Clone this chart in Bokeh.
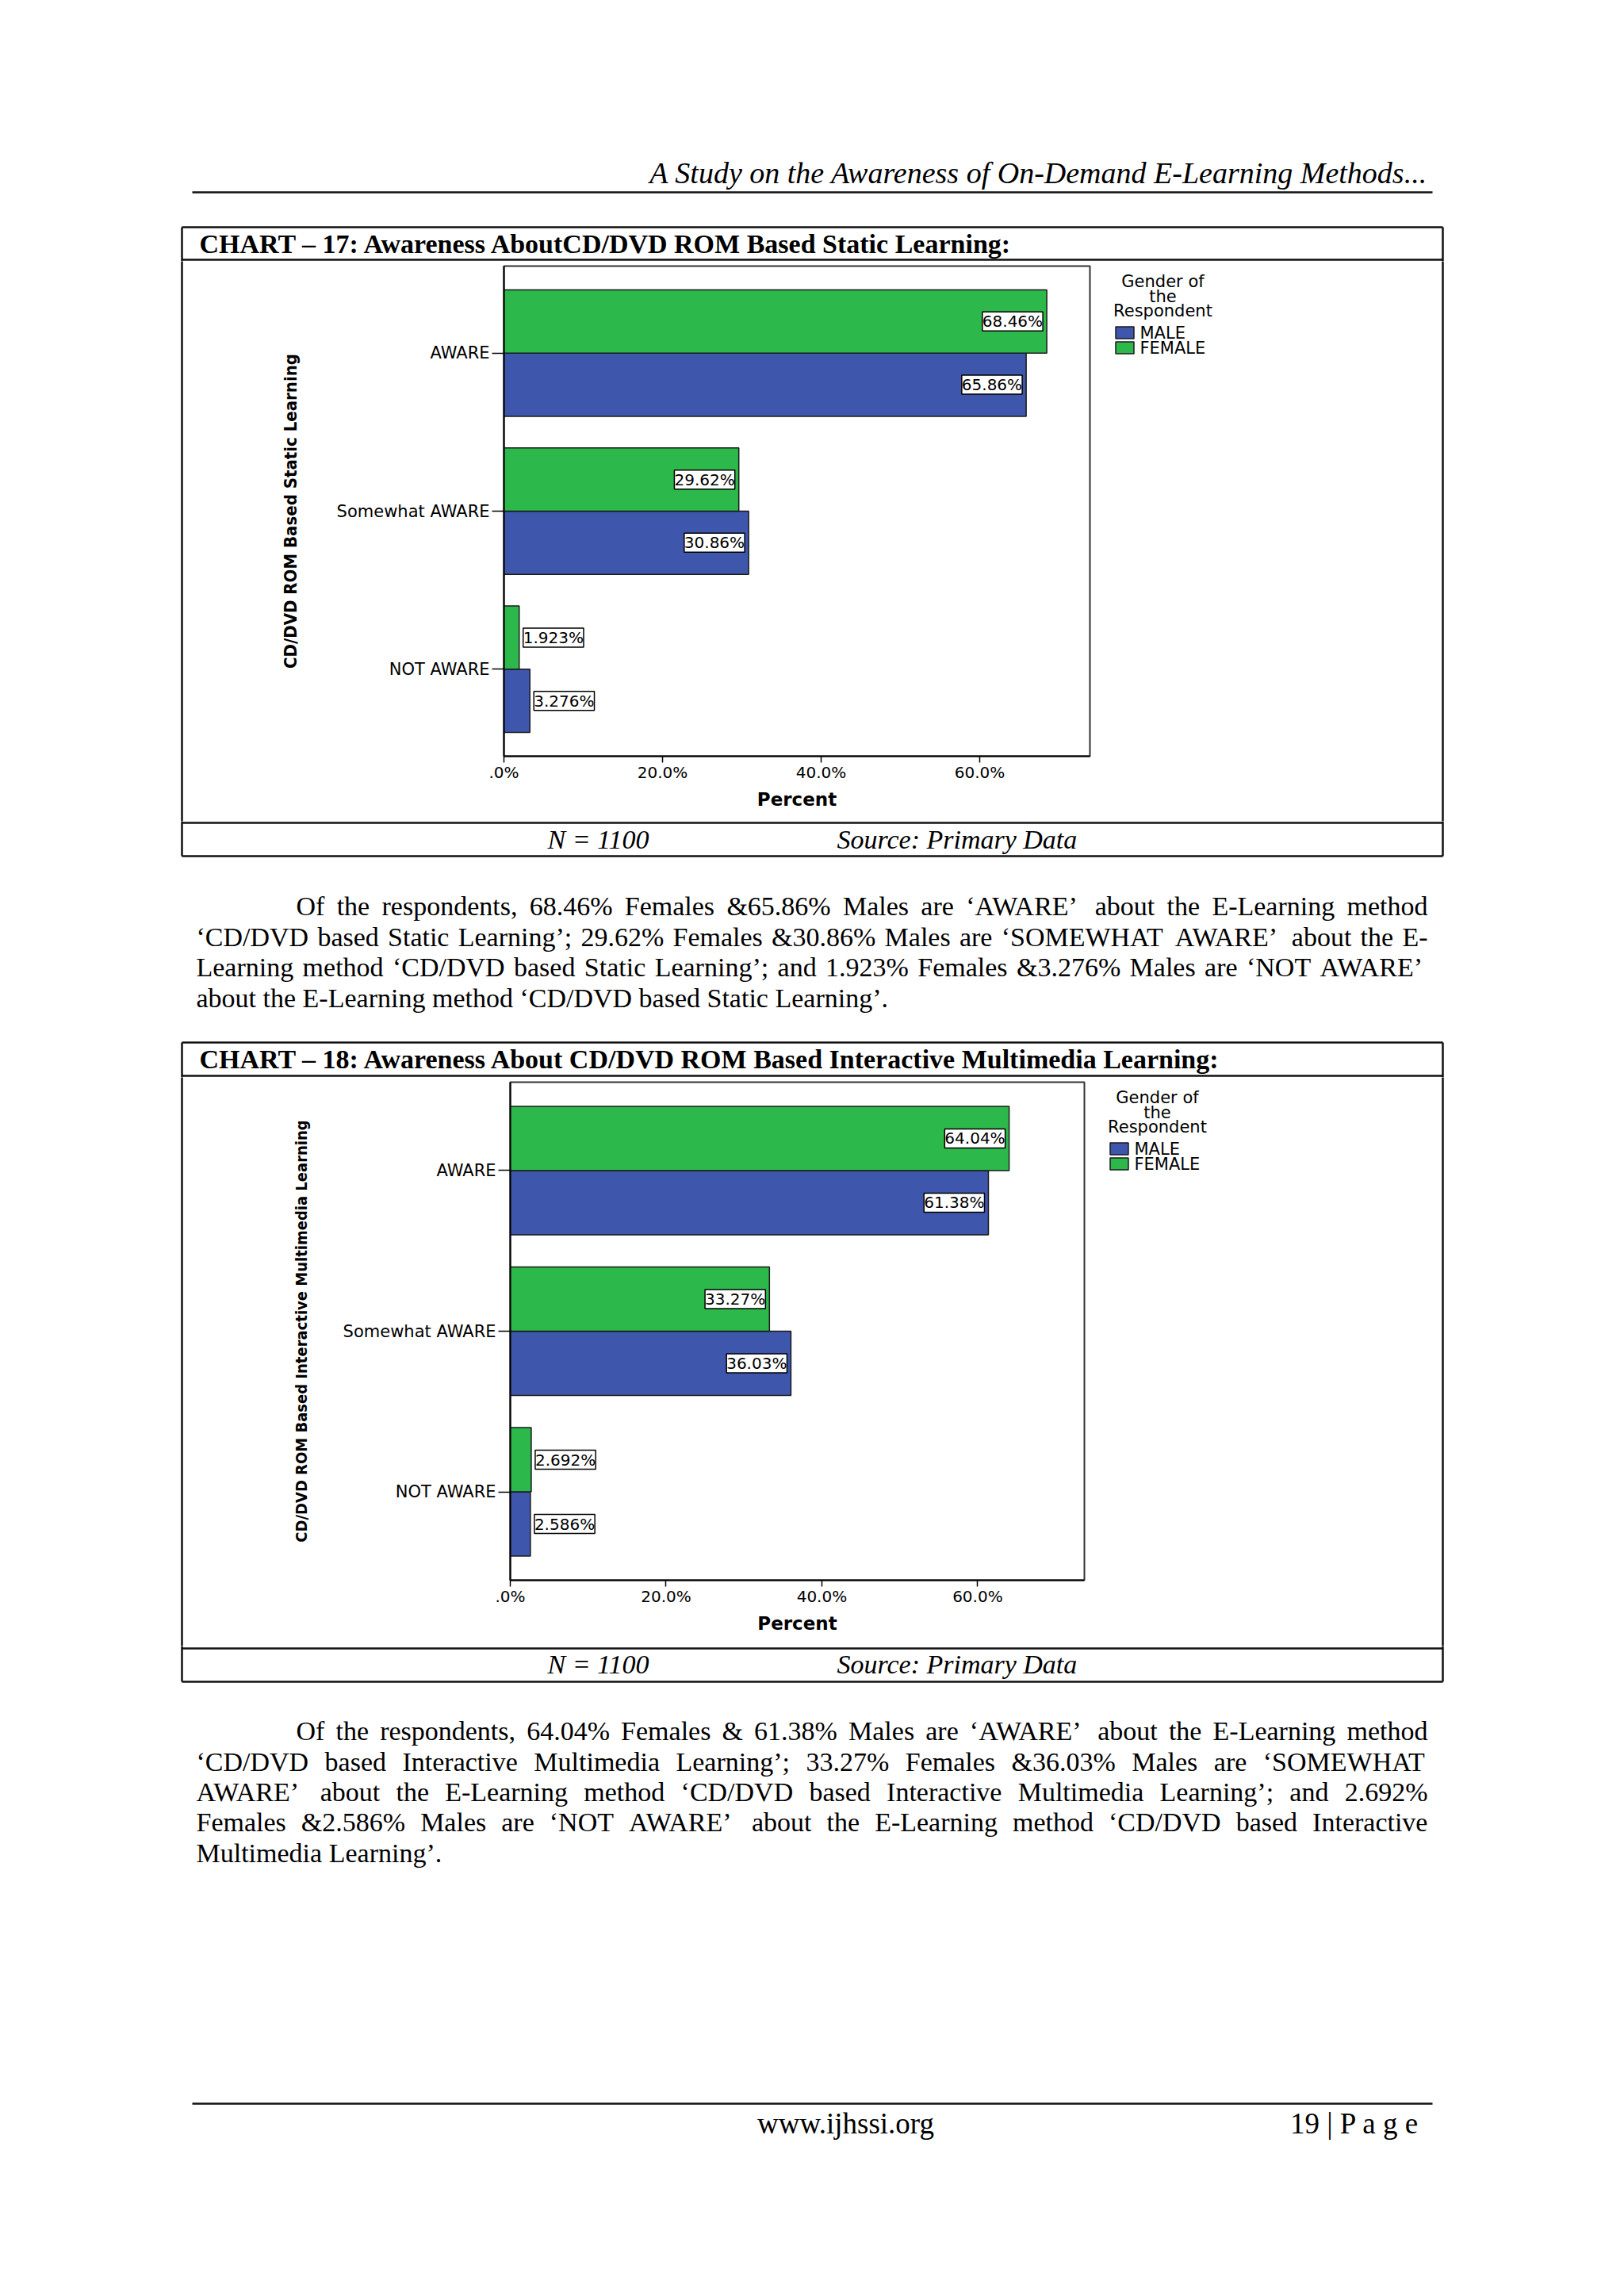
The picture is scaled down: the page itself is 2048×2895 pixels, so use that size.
from bokeh.plotting import figure
from bokeh.models import Range1d, FixedTicker, ColumnDataSource, LabelSet
from bokeh.layouts import column, row
from bokeh.core.properties import value
from bokeh.embed import file_html
from bokeh.resources import INLINE

# ---------------- data ----------------
categories = ["AWARE", "Somewhat AWARE", "NOT AWARE"]
genders = ["MALE", "FEMALE"]
gender_colors = ["#3E57AC", "#2DB84B"]
female_17 = [68.46, 29.62, 1.923]
male_17 = [65.86, 30.86, 3.276]
female_18 = [64.04, 33.27, 2.692]
male_18 = [61.38, 36.03, 2.586]
x_ticks = [0, 20, 40, 60]
x_tick_labels = [".0%", "20.0%", "40.0%", "60.0%"]
legend_title = ["Gender of", "the", "Respondent"]

header_text = "A Study on the Awareness of On-Demand E-Learning Methods..."
title_17 = "CHART \u2013 17: Awareness AboutCD/DVD ROM Based Static Learning:"
title_18 = "CHART \u2013 18: Awareness About CD/DVD ROM Based Interactive Multimedia Learning:"
ytitle_17 = "CD/DVD ROM Based Static Learning"
ytitle_18 = "CD/DVD ROM Based Interactive Multimedia Learning"
note_n = "N = 1100"
note_src = "Source: Primary Data"
para_17 = [
    "Of the respondents, 68.46% Females &65.86% Males are \u2018AWARE\u2019 about the E-Learning method",
    "\u2018CD/DVD based Static Learning\u2019; 29.62% Females &30.86% Males are \u2018SOMEWHAT AWARE\u2019 about the E-",
    "Learning method \u2018CD/DVD based Static Learning\u2019; and 1.923% Females &3.276% Males are \u2018NOT AWARE\u2019",
    "about the E-Learning method \u2018CD/DVD based Static Learning\u2019.",
]
para_18 = [
    "Of the respondents, 64.04% Females & 61.38% Males are \u2018AWARE\u2019 about the E-Learning method",
    "\u2018CD/DVD based Interactive Multimedia Learning\u2019; 33.27% Females &36.03% Males are \u2018SOMEWHAT",
    "AWARE\u2019 about the E-Learning method \u2018CD/DVD based Interactive Multimedia Learning\u2019; and 2.692%",
    "Females &2.586% Males are \u2018NOT AWARE\u2019 about the E-Learning method \u2018CD/DVD based Interactive",
    "Multimedia Learning\u2019.",
]
site_text = "www.ijhssi.org"
page_text = "19 | P a g e"

# ---------------- helpers ----------------
PAGE_W, PAGE_H = 2048, 2895
SERIF = "Liberation Serif"
SANS = "DejaVu Sans"
NARROW = "Liberation Sans Narrow, DejaVu Sans Condensed, Liberation Sans"
INK = "#111111"
BOX_L, BOX_R = 229, 1819
STRIP_L, STRIP_R = 300, 1384   # chart figure spans STRIP_L..STRIP_R

TW = {' ': 250, '%': 833, '&': 778, ',': 250, '-': 333, '.': 250, '/': 278, ':': 278, ';': 278,
      '\u2018': 333, '\u2019': 333, '|': 200}
for d in "0123456789":
    TW[d] = 500
TW.update(dict(A=722, B=667, C=667, D=722, E=611, F=556, G=722, H=722, I=333, J=389, K=722, L=611,
               M=889, N=722, O=722, P=556, Q=722, R=667, S=556, T=611, U=722, V=722, W=944, X=722,
               Y=722, Z=611, a=444, b=500, c=444, d=500, e=444, f=333, g=500, h=500, i=278, j=278,
               k=500, l=278, m=778, n=500, o=500, p=500, q=500, r=333, s=389, t=278, u=500, v=500,
               w=722, x=500, y=500, z=444))


def text_width(s, size):
    return sum(TW.get(ch, 500) for ch in s) / 1000.0 * size


SEGS = []   # (x0, y0, x1, y1)
TEXTS = []  # dicts
RECTS = []  # (cx, cy, w, h, color)


def add_text(x, y, t, size, style="normal", align="left", font=SERIF, baseline="alphabetic"):
    # y is given as the alphabetic baseline; draw with a middle baseline
    if baseline == "alphabetic":
        y = y - 0.34 * size
    TEXTS.append(dict(x=x, y=y, t=t, size=size, style=style, align=align, font=font))


def add_paragraph(lines, first_x, x0, x1, y_first, lh, size):
    for k, line in enumerate(lines):
        words = line.split(" ")
        widths = [text_width(w, size) for w in words]
        start = first_x if k == 0 else x0
        last = k == len(lines) - 1
        if not last and len(words) > 1:
            gap = (x1 - start - sum(widths)) / (len(words) - 1)
        else:
            gap = text_width(" ", size)
        x = start
        y = y_first + k * lh
        for w, wd in zip(words, widths):
            add_text(x, y, w, size)
            x += wd + gap


def add_box(top, sep1, sep2, bottom):
    L, R = BOX_L, BOX_R
    SEGS.extend([(L, top, R, top), (L, bottom, R, bottom), (L, sep1, R, sep1),
                 (L, sep2, R, sep2), (L, top, L, bottom), (R, top, R, bottom)])


def add_legend(fr, ft):
    for k, t in enumerate(legend_title):
        add_text(fr + 92, ft + [19, 38, 56][k], t, 21, align="center", font=SANS, baseline="middle")
    for k, (g, c) in enumerate(zip(genders, gender_colors)):
        cy = ft + 84 + 19 * k
        RECTS.append((fr + 44, cy, 23, 15, c))
        add_text(fr + 63, cy, g, 21, font=SANS, baseline="middle")


def no_align(p):
    try:
        p.frame_align = False
    except Exception:
        pass


def page_fig(x0, x1, y0, y1):
    p = figure(width=x1 - x0, height=y1 - y0, x_range=Range1d(x0, x1), y_range=Range1d(y1, y0),
               output_backend="svg", toolbar_location=None, min_border=0,
               x_axis_type=None, y_axis_type=None, outline_line_color=None,
               background_fill_color="white", border_fill_color="white")
    no_align(p)
    segs = [s for s in SEGS if min(s[0], s[2]) <= x1 + 2 and max(s[0], s[2]) >= x0 - 2
            and min(s[1], s[3]) <= y1 + 2 and max(s[1], s[3]) >= y0 - 2]
    if segs:
        p.segment(x0=[s[0] for s in segs], y0=[s[1] for s in segs], x1=[s[2] for s in segs],
                  y1=[s[3] for s in segs], line_color=INK, line_width=2.5)
    for r in RECTS:
        if x0 <= r[0] <= x1 and y0 <= r[1] <= y1:
            p.rect(x=[r[0]], y=[r[1]], width=r[2], height=r[3], fill_color=r[4],
                   line_color="#1a1a1a", line_width=1.5)
    txts = [t for t in TEXTS if x0 <= t["x"] <= x1 and y0 <= t["y"] <= y1]
    groups = {}
    for t in txts:
        groups.setdefault((t["size"], t["style"], t["align"], t["font"]), []).append(t)
    for (size, style, align, font), items in groups.items():
        p.text(x=[t["x"] for t in items], y=[t["y"] for t in items], text=[t["t"] for t in items],
               text_font=value(font), text_font_size=value(f"{size}px"), text_font_style=style,
               text_align=align, text_baseline="middle", text_color="black")
    return p


def make_chart(female, male, ytitle, ytitle_size, xmax, fig_top, fig_bottom,
               frame_l, frame_r, frame_t, frame_b, ystand):
    n = len(categories)
    pos = [n - 1 - i for i in range(n)]
    p = figure(width=STRIP_R - STRIP_L, height=fig_bottom - fig_top,
               x_range=Range1d(0, xmax), y_range=Range1d(-0.55, n - 1 + 0.55),
               output_backend="svg", toolbar_location=None,
               min_border_left=frame_l - STRIP_L, min_border_right=STRIP_R - frame_r,
               min_border_top=frame_t - fig_top, min_border_bottom=fig_bottom - frame_b,
               background_fill_color="white", border_fill_color="white",
               outline_line_color="#333333", outline_line_width=2)
    no_align(p)
    p.grid.visible = False

    bh = 0.4
    for vals, col, off in ((male, gender_colors[0], -bh / 2), (female, gender_colors[1], bh / 2)):
        ys = [c + off for c in pos]
        src = ColumnDataSource(dict(y=ys, v=vals))
        p.hbar(y="y", left=0, right="v", height=bh, source=src, fill_color=col,
               line_color="#1a1a1a", line_width=1.5)
        labs = [f"{v:.4g}%" for v in vals]
        inside = [i for i, v in enumerate(vals) if v >= 12]
        outside = [i for i, v in enumerate(vals) if v < 12]
        for idx, align, xo in ((inside, "right", -5), (outside, "left", 5)):
            if not idx:
                continue
            s = ColumnDataSource(dict(y=[ys[i] for i in idx], v=[vals[i] for i in idx],
                                      t=[labs[i] for i in idx]))
            ls = LabelSet(x="v", y="y", text="t", source=s, text_align=align, text_baseline="middle",
                          x_offset=xo, text_font=value(SANS), text_font_size=value("20px"),
                          text_color="black", background_fill_color="white",
                          border_line_color="black", border_line_width=1.5)
            try:
                ls.padding = 4
            except Exception:
                pass
            p.add_layout(ls)

    xa = p.xaxis[0]
    xa.ticker = FixedTicker(ticks=x_ticks)
    xa.major_label_overrides = {t: l for t, l in zip(x_ticks, x_tick_labels)}
    xa.minor_tick_line_color = None
    xa.major_tick_out = 8
    xa.major_tick_in = 0
    xa.major_label_standoff = 0
    xa.major_label_text_font = SANS
    xa.major_label_text_font_size = "20px"
    xa.major_label_text_color = "black"
    xa.axis_label = "Percent"
    xa.axis_label_text_font = SANS
    xa.axis_label_text_font_style = "bold"
    xa.axis_label_text_font_size = "23px"
    xa.axis_label_text_color = "black"
    xa.axis_label_standoff = 6
    xa.axis_line_width = 2
    xa.axis_line_color = "black"
    xa.major_tick_line_color = "black"
    xa.major_tick_line_width = 1.5

    ya = p.yaxis[0]
    ya.ticker = FixedTicker(ticks=pos)
    ya.major_label_overrides = {c: lab for c, lab in zip(pos, categories)}
    ya.minor_tick_line_color = None
    ya.major_tick_out = 15
    ya.major_tick_in = 0
    ya.major_label_standoff = 3
    ya.major_label_text_font = SANS
    ya.major_label_text_font_size = "21px"
    ya.major_label_text_color = "black"
    ya.axis_label = ytitle
    ya.axis_label_text_font = NARROW
    ya.axis_label_text_font_style = "bold"
    ya.axis_label_text_font_size = f"{ytitle_size}px"
    ya.axis_label_text_color = "black"
    ya.axis_label_standoff = ystand
    ya.axis_line_width = 2
    ya.axis_line_color = "black"
    ya.major_tick_line_color = "black"
    ya.major_tick_line_width = 1.5
    return p


def chart_row(chart, y0, y1):
    return row(page_fig(0, STRIP_L, y0, y1), column(chart), page_fig(STRIP_R, PAGE_W, y0, y1), spacing=0)


# ---------------- page content ----------------
add_text(1800, 230, header_text, 38, style="italic", align="right")
SEGS.append((242, 242, 1806, 242))

add_box(286, 327, 1037, 1079)
add_text(251, 319, title_17, 34, style="bold")
add_text(690, 1070, note_n, 34, style="italic")
add_text(1055, 1070, note_src, 34, style="italic")
add_legend(1374, 335)

add_paragraph(para_17, 373, 247, 1800, 1154, 38.4, 34)

add_box(1314, 1356, 2078, 2120)
add_text(251, 1347, title_18, 34, style="bold")
add_text(690, 2110, note_n, 34, style="italic")
add_text(1055, 2110, note_src, 34, style="italic")
add_legend(1367, 1364)

add_paragraph(para_18, 373, 247, 1800, 2194, 38.3, 34)

SEGS.append((242, 2652, 1806, 2652))
add_text(1066, 2690, site_text, 37, align="center")
add_text(1789, 2690, page_text, 37, align="right")

# ---------------- layout ----------------
head = page_fig(0, PAGE_W, 0, 284)
t17 = page_fig(0, PAGE_W, 284, 329)
c17 = make_chart(female_17, male_17, ytitle_17, 22, 73.9, 329, 1035, 635, 1374, 335, 953, 43)
r17 = chart_row(c17, 329, 1035)
f17 = page_fig(0, PAGE_W, 1035, 1082)
mid = page_fig(0, PAGE_W, 1082, 1312)
t18 = page_fig(0, PAGE_W, 1312, 1358)
c18 = make_chart(female_18, male_18, ytitle_18, 20, 73.7, 1358, 2075, 643, 1367, 1364, 1992, 38)
r18 = chart_row(c18, 1358, 2075)
f18 = page_fig(0, PAGE_W, 2075, 2124)
bot = page_fig(0, PAGE_W, 2124, PAGE_H)

layout = column(head, t17, r17, f17, mid, t18, r18, f18, bot, spacing=0)

with open("out.html", "w") as f:
    f.write(file_html(layout, INLINE))
